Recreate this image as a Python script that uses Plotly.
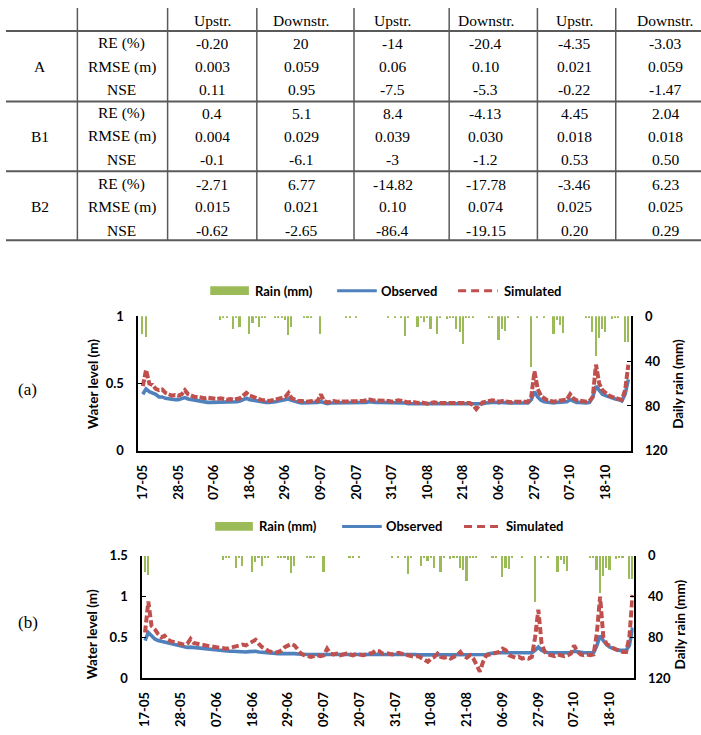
import plotly.graph_objects as go

W, H = 701, 735

# ---------------- table data ----------------
col_headers = ["Upstr.", "Downstr.", "Upstr.", "Downstr.", "Upstr.", "Downstr."]
groups = ["A", "B1", "B2"]
metrics = ["RE (%)", "RMSE (m)", "NSE"]
table_A = [["-0.20", "20", "-14", "-20.4", "-4.35", "-3.03"],
           ["0.003", "0.059", "0.06", "0.10", "0.021", "0.059"],
           ["0.11", "0.95", "-7.5", "-5.3", "-0.22", "-1.47"]]
table_B1 = [["0.4", "5.1", "8.4", "-4.13", "4.45", "2.04"],
            ["0.004", "0.029", "0.039", "0.030", "0.018", "0.018"],
            ["-0.1", "-6.1", "-3", "-1.2", "0.53", "0.50"]]
table_B2 = [["-2.71", "6.77", "-14.82", "-17.78", "-3.46", "6.23"],
            ["0.015", "0.021", "0.10", "0.074", "0.025", "0.025"],
            ["-0.62", "-2.65", "-86.4", "-19.15", "0.20", "0.29"]]

# ---------------- chart data ----------------
date_labels = ["17-05", "28-05", "07-06", "18-06", "29-06", "09-07", "20-07",
               "31-07", "10-08", "21-08", "06-09", "27-09", "07-10", "18-10"]
label_step = 11  # samples between labels

rain_day = [0, 1, 24, 25, 26, 28, 29, 30, 33, 34, 35, 36, 37, 38, 41, 42, 43, 44, 45, 46,
            50, 51, 52, 55, 63, 64, 66, 76, 78, 80, 81, 82, 85, 86, 87, 88, 89, 91, 92,
            94, 95, 96, 97, 98, 99, 100, 101, 102, 107, 108, 110, 111, 112, 113, 116, 120,
            122, 124, 127, 128, 129, 130, 137, 138, 139, 140, 141, 142, 143, 145, 146, 147,
            149, 150]
rain_mm = [16, 19, 4, 1, 1, 12, 2, 10, 16, 6, 2, 10, 1, 1, 1, 1, 1, 4, 17, 10,
           1, 2, 1, 16, 1, 1, 1, 1, 1, 1, 18, 2, 10, 1, 5, 1, 12, 16, 2,
           3, 2, 1, 12, 14, 25, 1, 1, 1, 1, 1, 21, 12, 13, 1, 1, 45,
           1, 1, 16, 4, 8, 15, 1, 1, 14, 36, 20, 12, 14, 3, 1, 1,
           23, 23]

obs_a = [0.42, 0.46, 0.44, 0.43, 0.42, 0.40, 0.40, 0.39, 0.385, 0.38,
         0.38, 0.38, 0.385, 0.395, 0.385, 0.38, 0.375, 0.37, 0.365, 0.36,
         0.36, 0.36, 0.36, 0.36, 0.36, 0.36, 0.36, 0.36, 0.36, 0.365,
         0.37, 0.38, 0.39, 0.38, 0.375, 0.37, 0.365, 0.36, 0.36, 0.36,
         0.36, 0.365, 0.37, 0.375, 0.38, 0.385, 0.375, 0.365, 0.36, 0.355,
         0.355, 0.355, 0.355, 0.355, 0.36, 0.365, 0.355, 0.35, 0.355, 0.355,
         0.355, 0.355, 0.355, 0.355, 0.355, 0.355, 0.355, 0.355, 0.36, 0.36,
         0.365, 0.36, 0.36, 0.36, 0.36, 0.36, 0.36, 0.355, 0.355, 0.36,
         0.355, 0.355, 0.35, 0.35, 0.35, 0.35, 0.35, 0.35, 0.345, 0.345,
         0.35, 0.35, 0.345, 0.345, 0.345, 0.345, 0.345, 0.345, 0.35, 0.345,
         0.345, 0.345, 0.345, 0.345, 0.345, 0.35, 0.355, 0.36, 0.36, 0.36,
         0.355, 0.36, 0.355, 0.355, 0.355, 0.355, 0.355, 0.355, 0.355, 0.355,
         0.38, 0.44, 0.40, 0.375, 0.365, 0.36, 0.36, 0.355, 0.36, 0.36,
         0.36, 0.365, 0.38, 0.37, 0.36, 0.36, 0.355, 0.355, 0.36, 0.40,
         0.48, 0.45, 0.42, 0.41, 0.40, 0.39, 0.385, 0.38, 0.37, 0.42, 0.53]

sim_a = [0.48, 0.60, 0.50, 0.49, 0.46, 0.45, 0.455, 0.43, 0.42, 0.41,
         0.415, 0.41, 0.42, 0.45, 0.42, 0.41, 0.40, 0.40, 0.395, 0.39,
         0.395, 0.39, 0.39, 0.385, 0.39, 0.385, 0.38, 0.385, 0.38, 0.385,
         0.39, 0.41, 0.43, 0.41, 0.40, 0.39, 0.38, 0.375, 0.375, 0.37,
         0.375, 0.38, 0.385, 0.39, 0.40, 0.43, 0.39, 0.38, 0.37, 0.37,
         0.365, 0.365, 0.37, 0.365, 0.37, 0.42, 0.37, 0.36, 0.365, 0.37,
         0.365, 0.365, 0.37, 0.365, 0.365, 0.37, 0.365, 0.365, 0.37, 0.375,
         0.38, 0.375, 0.375, 0.37, 0.375, 0.375, 0.37, 0.365, 0.37, 0.375,
         0.37, 0.365, 0.36, 0.365, 0.36, 0.355, 0.36, 0.355, 0.35, 0.355,
         0.36, 0.355, 0.355, 0.35, 0.355, 0.355, 0.35, 0.355, 0.355, 0.35,
         0.355, 0.355, 0.34, 0.31, 0.34, 0.36, 0.365, 0.37, 0.375, 0.37,
         0.365, 0.37, 0.365, 0.365, 0.36, 0.365, 0.365, 0.36, 0.365, 0.365,
         0.40, 0.59, 0.46, 0.41, 0.39, 0.375, 0.37, 0.365, 0.37, 0.375,
         0.375, 0.38, 0.42, 0.39, 0.375, 0.37, 0.365, 0.365, 0.37, 0.40,
         0.64, 0.50, 0.45, 0.43, 0.41, 0.40, 0.39, 0.385, 0.38, 0.45, 0.64]

obs_b = [0.46, 0.56, 0.52, 0.48, 0.46, 0.45, 0.44, 0.43, 0.42, 0.41,
         0.40, 0.39, 0.38, 0.375, 0.38, 0.375, 0.37, 0.365, 0.36, 0.355,
         0.35, 0.35, 0.345, 0.34, 0.34, 0.335, 0.33, 0.33, 0.325, 0.32,
         0.32, 0.32, 0.325, 0.33, 0.33, 0.32, 0.315, 0.31, 0.31, 0.305,
         0.30, 0.30, 0.30, 0.30, 0.31, 0.31, 0.30, 0.295, 0.29, 0.29,
         0.29, 0.29, 0.29, 0.29, 0.29, 0.29, 0.295, 0.29, 0.29, 0.29,
         0.29, 0.29, 0.29, 0.29, 0.29, 0.29, 0.29, 0.29, 0.29, 0.29,
         0.295, 0.30, 0.30, 0.295, 0.29, 0.29, 0.29, 0.29, 0.29, 0.29,
         0.29, 0.29, 0.29, 0.29, 0.285, 0.285, 0.285, 0.28, 0.28, 0.28,
         0.28, 0.28, 0.28, 0.28, 0.28, 0.28, 0.28, 0.28, 0.28, 0.28,
         0.28, 0.28, 0.28, 0.28, 0.285, 0.29, 0.30, 0.31, 0.31, 0.31,
         0.31, 0.315, 0.31, 0.31, 0.31, 0.31, 0.31, 0.31, 0.31, 0.31,
         0.34, 0.38, 0.34, 0.32, 0.31, 0.31, 0.31, 0.31, 0.31, 0.31,
         0.31, 0.31, 0.33, 0.32, 0.31, 0.31, 0.31, 0.31, 0.31, 0.40,
         0.52, 0.46, 0.41, 0.38, 0.36, 0.35, 0.34, 0.34, 0.34, 0.40, 0.62]

sim_b = [0.56, 0.94, 0.64, 0.60, 0.54, 0.50, 0.52, 0.47, 0.45, 0.44,
         0.43, 0.42, 0.41, 0.42, 0.48, 0.43, 0.42, 0.42, 0.41, 0.40,
         0.39, 0.385, 0.38, 0.37, 0.37, 0.36, 0.37, 0.38, 0.39, 0.40,
         0.41, 0.40, 0.42, 0.44, 0.47, 0.42, 0.38, 0.36, 0.33, 0.32,
         0.31, 0.32, 0.34, 0.38, 0.40, 0.42, 0.40, 0.34, 0.30, 0.28,
         0.27, 0.26, 0.27, 0.28, 0.27, 0.28, 0.36, 0.30, 0.29, 0.30,
         0.28, 0.29, 0.30, 0.29, 0.28, 0.30, 0.29, 0.28, 0.29, 0.30,
         0.31, 0.34, 0.33, 0.30, 0.31, 0.30, 0.29, 0.30, 0.31, 0.30,
         0.29, 0.28, 0.27, 0.26, 0.27, 0.25, 0.22, 0.20, 0.24, 0.26,
         0.30, 0.26, 0.25, 0.26, 0.24, 0.26, 0.28, 0.32, 0.27, 0.25,
         0.28, 0.24, 0.16, 0.08, 0.20, 0.28, 0.29, 0.30, 0.31, 0.32,
         0.36, 0.34, 0.28, 0.26, 0.25, 0.26, 0.24, 0.25, 0.24, 0.26,
         0.50, 0.84, 0.42, 0.32, 0.29, 0.28, 0.27, 0.29, 0.28, 0.27,
         0.28, 0.30, 0.40, 0.33, 0.29, 0.28, 0.29, 0.28, 0.29, 0.55,
         1.00, 0.50, 0.42, 0.39, 0.37, 0.35, 0.33, 0.32, 0.32, 0.50, 1.02]

GREEN, BLUE, RED = "#9BBB59", "#4F81BD", "#C0504D"
SANS = "Lato"
SERIF = "Liberation Serif"


def px(x):
    return x / W


def py(y):
    return 1 - y / H


fig = go.Figure()
steps = list(range(len(obs_a)))

# chart (a)
fig.add_trace(go.Bar(x=rain_day, y=rain_mm, xaxis="x", yaxis="y2", width=0.5,
                     marker=dict(color=GREEN, line=dict(width=0)), showlegend=False))
fig.add_trace(go.Scatter(x=steps, y=obs_a, xaxis="x", yaxis="y", mode="lines",
                         line=dict(color=BLUE, width=3.6), showlegend=False))
fig.add_trace(go.Scatter(x=steps, y=sim_a, xaxis="x", yaxis="y", mode="lines",
                         line=dict(color=RED, width=4, dash="7px,2px"), showlegend=False))
# chart (b)
fig.add_trace(go.Bar(x=rain_day, y=rain_mm, xaxis="x2", yaxis="y4", width=0.5,
                     marker=dict(color=GREEN, line=dict(width=0)), showlegend=False))
fig.add_trace(go.Scatter(x=steps, y=obs_b, xaxis="x2", yaxis="y3", mode="lines",
                         line=dict(color=BLUE, width=3.6), showlegend=False))
fig.add_trace(go.Scatter(x=steps, y=sim_b, xaxis="x2", yaxis="y3", mode="lines",
                         line=dict(color=RED, width=4, dash="7px,3px"), showlegend=False))

tickvals = [i * label_step for i in range(len(date_labels))]
tf = dict(family=SANS, size=13, color="black", weight="bold")

common_x = dict(tickvals=tickvals, ticktext=date_labels, tickangle=-90, showline=True,
                linecolor="black", linewidth=1.5, showgrid=False, zeroline=False,
                ticks="", tickfont=tf, ticklabelstandoff=7)
common_y = dict(showline=True, linecolor="black", linewidth=1.5, showgrid=False,
                zeroline=False, ticks="inside", ticklen=4, tickcolor="black",
                tickfont=tf, ticklabelstandoff=10)

# plot areas (pixels)
A_L, A_R, A_T, A_B = 133.3, 630, 315, 452.7
B_L, B_R, B_T, B_B = 137.3, 633, 560, 685

fig.update_layout(
    width=W, height=H, margin=dict(l=0, r=0, t=0, b=0),
    paper_bgcolor="white", plot_bgcolor="white", showlegend=False, bargap=0,
    xaxis=dict(domain=[px(A_L), px(A_R)], range=[-1.44, 150.7], anchor="y", **common_x),
    yaxis=dict(domain=[py(A_B), py(A_T)], range=[0, 1], tickvals=[0, 0.5, 1],
               ticktext=["0", "0.5", "1"], anchor="x", **common_y),
    yaxis2=dict(domain=[py(A_B), py(A_T)], range=[120, 0], tickvals=[0, 40, 80, 120],
                overlaying="y", side="right", anchor="x", **common_y),
    xaxis2=dict(domain=[px(B_L), px(B_R)], range=[-0.9, 150.3], anchor="y3", **common_x),
    yaxis3=dict(domain=[py(B_B), py(B_T)], range=[0, 1.5], tickvals=[0, 0.5, 1, 1.5],
                ticktext=["0", "0.5", "1", "1.5"], anchor="x2", **common_y),
    yaxis4=dict(domain=[py(B_B), py(B_T)], range=[120, 0], tickvals=[0, 40, 80, 120],
                overlaying="y3", side="right", anchor="x2", **common_y),
)

shapes = []
ann = []

# ---------------- table ----------------
v_lines = [72, 163, 253, 351, 447, 536, 615]
h_lines = [23.5, 95.5, 167, 237.5]
LC = "#5a5a5a"
for xv in v_lines:
    shapes.append(dict(type="line", xref="paper", yref="paper", x0=px(xv), x1=px(xv),
                       y0=py(0), y1=py(238), line=dict(color=LC, width=1.5)))
for yh in h_lines:
    shapes.append(dict(type="line", xref="paper", yref="paper", x0=0, x1=1,
                       y0=py(yh), y1=py(yh), line=dict(color=LC, width=2)))

col_x = [208, 298, 390, 484, 573, 665]
tfont = dict(family=SERIF, size=15.5, color="black")
for cx, h in zip(col_x, col_headers):
    ann.append(dict(x=px(cx), y=py(13), text=h))
row_y = [[36, 60, 83], [107.5, 131, 155], [180, 203, 227]]
for g, rows, data in zip(groups, row_y, [table_A, table_B1, table_B2]):
    ann.append(dict(x=px(34), y=py(rows[1]), text=g))
    for m, ry, vals in zip(metrics, rows, data):
        ann.append(dict(x=px(117), y=py(ry), text=m))
        for cx, v in zip(col_x, vals):
            ann.append(dict(x=px(cx), y=py(ry), text=v))
for a in ann:
    a.update(xref="paper", yref="paper", showarrow=False, font=tfont,
             xanchor="center", yanchor="middle")

# ---------------- legends (drawn) ----------------
lfont = dict(family=SANS, size=13, color="black", weight="bold")


def legend(yc, rx0, rx1, ox0, ox1, sx0, sx1):
    shapes.append(dict(type="rect", xref="paper", yref="paper", x0=px(rx0), x1=px(rx1),
                       y0=py(yc + 4.5), y1=py(yc - 4.5), fillcolor=GREEN, line=dict(width=0)))
    shapes.append(dict(type="line", xref="paper", yref="paper", x0=px(ox0), x1=px(ox1),
                       y0=py(yc), y1=py(yc), line=dict(color=BLUE, width=3)))
    shapes.append(dict(type="line", xref="paper", yref="paper", x0=px(sx0), x1=px(sx1),
                       y0=py(yc), y1=py(yc), line=dict(color=RED, width=3, dash="8px,5px")))
    for xt, t in [(rx1 + 4, "Rain (mm)"), (ox1 + 2, "Observed"), (sx1 + 4, "Simulated")]:
        ann.append(dict(xref="paper", yref="paper", x=px(xt), y=py(yc), text=t,
                        showarrow=False, font=lfont, xanchor="left", yanchor="middle"))


legend(289, 206, 245, 334, 374, 456, 496)
legend(530, 211, 249, 339, 379, 462, 498)

# ---------------- axis titles & panel labels ----------------
afont = dict(family=SANS, size=13.5, color="black", weight="bold")
for xt, yt, t in [(87, 384, "Water level (m)"), (677, 384, "Daily rain (mm)"),
                  (87, 640, "Water level (m)"), (680, 630, "Daily rain (mm)")]:
    ann.append(dict(xref="paper", yref="paper", x=px(xt), y=py(yt), text=t, textangle=-90,
                    showarrow=False, font=afont, xanchor="center", yanchor="middle"))
for xt, yt, t in [(22, 390, "(a)"), (22, 628, "(b)")]:
    ann.append(dict(xref="paper", yref="paper", x=px(xt), y=py(yt), text=t,
                    showarrow=False, font=dict(family=SERIF, size=17, color="black"),
                    xanchor="center", yanchor="middle"))

fig.update_layout(shapes=shapes, annotations=ann)
fig.write_html("out.html")
